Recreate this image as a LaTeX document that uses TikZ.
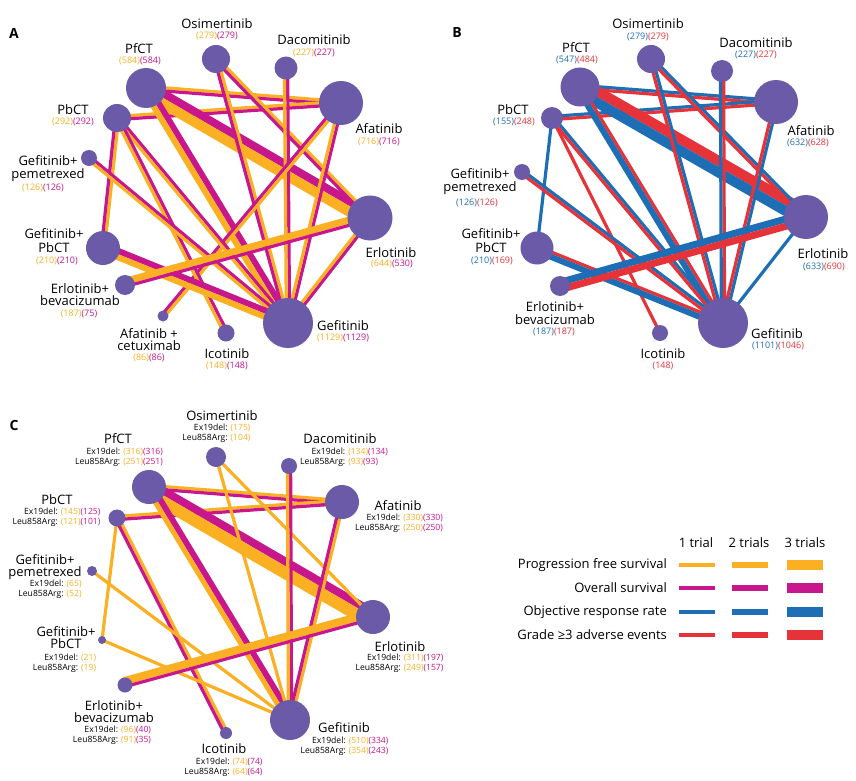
\documentclass[tikz,border=0pt]{standalone}
\usepackage{fontspec}
\setmainfont{Open Sans}
\usetikzlibrary{calc}
\pgfdeclarelayer{bg}
\pgfsetlayers{bg,main}
\definecolor{pfs}{HTML}{FBB023}
\definecolor{os}{HTML}{C8168C}
\definecolor{orr}{HTML}{1E6EB5}
\definecolor{ae}{HTML}{E63339}
\definecolor{nodec}{HTML}{6B5AA7}
\newcommand\dpair[6]{%
  \pgfmathsetmacro\oa{#4/2}\pgfmathsetmacro\ob{#6/2}%
  \draw[#3, line width=#4pt] ($(#1.center)!\oa pt!90:(#2.center)$) -- ($(#2.center)!\oa pt!-90:(#1.center)$);
  \draw[#5, line width=#6pt] ($(#1.center)!\ob pt!-90:(#2.center)$) -- ($(#2.center)!\ob pt!90:(#1.center)$);
}
\newcommand\sline[4]{\draw[#3, line width=#4pt] (#1.center) -- (#2.center);}
\newcommand\blk[4]{\begin{tabular}{@{}r@{\hspace{3pt}}l@{}}Ex19del: & #1\\ Leu858Arg: & #2\end{tabular}}
\newcommand\po[2]{{\color{pfs}(#1)}{\color{os}(#2)}}
\newcommand\br[2]{{\color{orr}(#1)}{\color{ae}(#2)}}
\tikzset{
 nd/.style={circle, fill=nodec, inner sep=0pt, minimum size=#1},
 lbl/.style={font=\fontsize{13}{12.5}\selectfont, align=center, inner sep=0pt},
 num/.style={font=\fontsize{9}{10}\selectfont, inner sep=0pt},
 sub/.style={font=\fontsize{8.6}{10}\selectfont, inner sep=0pt},
 panel/.style={font=\fontsize{14}{14}\selectfont\bfseries, inner sep=0pt},
}
\def\w{3.2}
\begin{document}
\begin{tikzpicture}[x=1pt,y=-1pt]
\useasboundingbox (0,0) rectangle (856,781);
\begin{pgfonlayer}{bg}
\fill[white] (0,0) rectangle (856,781);
\end{pgfonlayer}
% ================= Panel A =================
\node[panel] (pA) at (14,33) {A};
\node[nd=40pt] (aPfCT) at (146,88) {};
\node[nd=28pt] (aOsi) at (216,59) {};
\node[nd=23pt] (aDac) at (286,68) {};
\node[nd=44pt] (aAfa) at (341,103) {};
\node[nd=28pt] (aPbCT) at (117,118) {};
\node[nd=16pt] (aGpem) at (89,158) {};
\node[nd=45pt] (aErl) at (370,218) {};
\node[nd=34pt] (aGPbCT) at (103,248) {};
\node[nd=20pt] (aEbev) at (125,285) {};
\node[nd=11pt] (aAcet) at (163,316) {};
\node[nd=17pt] (aIco) at (226,333) {};
\node[nd=50pt] (aGef) at (288,323) {};
\node[lbl] (aOsiL) at (217,24) {Osimertinib};
\node[num] (aOsiN) at (217,36) {\po{279}{279}};
\node[lbl] (aDacL) at (314,40) {Dacomitinib};
\node[num] (aDacN) at (314,53) {\po{227}{227}};
\node[lbl] (aPfCTL) at (139,49) {PfCT};
\node[num] (aPfCTN) at (140,61) {\po{584}{584}};
\node[lbl] (aPbCTL) at (73,110) {PbCT};
\node[num] (aPbCTN) at (73,122) {\po{292}{292}};
\node[lbl] (aAfaL) at (379,129) {Afatinib};
\node[num] (aAfaN) at (379,142) {\po{716}{716}};
\node[lbl] (aGpemL) at (48,168.5) {Gefitinib+\\pemetrexed};
\node[num] (aGpemN) at (43,188) {\po{126}{126}};
\node[lbl] (aGPbCTL) at (54,240.5) {Gefitinib+\\[2pt]PbCT};
\node[num] (aGPbCTN) at (57,261) {\po{210}{210}};
\node[lbl] (aErlL) at (391,253) {Erlotinib};
\node[num] (aErlN) at (392,264) {\po{644}{530}};
\node[lbl] (aEbevL) at (80,294.5) {Erlotinib+\\bevacizumab};
\node[num] (aEbevN) at (79,314) {\po{187}{75}};
\node[lbl] (aAcetL) at (149,339.5) {Afatinib +\\cetuximab};
\node[num] (aAcetN) at (149,358) {\po{86}{86}};
\node[lbl] (aIcoL) at (227,354) {Icotinib};
\node[num] (aIcoN) at (227,366) {\po{148}{148}};
\node[lbl] (aGefL) at (343,326) {Gefitinib};
\node[num] (aGefN) at (343,338) {\po{1129}{1129}};
\begin{pgfonlayer}{bg}
\dpair{aPfCT}{aAfa}{pfs}{\w}{os}{\w}
\dpair{aPbCT}{aAfa}{pfs}{\w}{os}{\w}
\dpair{aPfCT}{aErl}{os}{8}{pfs}{10}
\dpair{aPfCT}{aGef}{os}{6}{pfs}{6}
\dpair{aOsi}{aErl}{pfs}{\w}{os}{\w}
\dpair{aOsi}{aGef}{pfs}{\w}{os}{\w}
\dpair{aDac}{aGef}{os}{\w}{pfs}{\w}
\dpair{aAfa}{aGef}{os}{\w}{pfs}{\w}
\dpair{aAcet}{aAfa}{os}{\w}{pfs}{\w}
\dpair{aPbCT}{aGPbCT}{pfs}{\w}{os}{\w}
\dpair{aPbCT}{aGef}{os}{\w}{pfs}{\w}
\dpair{aPbCT}{aIco}{os}{\w}{pfs}{\w}
\dpair{aGpem}{aGef}{os}{\w}{pfs}{\w}
\dpair{aGPbCT}{aGef}{os}{6}{pfs}{6}
\dpair{aEbev}{aErl}{pfs}{7}{os}{\w}
\dpair{aErl}{aGef}{os}{\w}{pfs}{\w}
\end{pgfonlayer}
% ================= Panel B =================
\node[panel] (pB) at (457,33) {B};
\node[nd=39pt] (bPfCT) at (580,87) {};
\node[nd=28pt] (bOsi) at (651,59) {};
\node[nd=22pt] (bDac) at (722,71) {};
\node[nd=44pt] (bAfa) at (776,102) {};
\node[nd=22pt] (bPbCT) at (552,118) {};
\node[nd=16pt] (bGpem) at (522,172) {};
\node[nd=44pt] (bErl) at (806,217) {};
\node[nd=33pt] (bGPbCT) at (537,248) {};
\node[nd=20pt] (bEbev) at (560,286) {};
\node[nd=16pt] (bIco) at (660,333) {};
\node[nd=50pt] (bGef) at (723,323) {};
\node[lbl] (bOsiL) at (648,24) {Osimertinib};
\node[num] (bOsiN) at (648,37) {\br{279}{279}};
\node[lbl] (bDacL) at (756,43) {Dacomitinib};
\node[num] (bDacN) at (756,55) {\br{227}{227}};
\node[lbl] (bPfCTL) at (576,48) {PfCT};
\node[num] (bPfCTN) at (577,60) {\br{547}{484}};
\node[lbl] (bPbCTL) at (513,110) {PbCT};
\node[num] (bPbCTN) at (514,122) {\br{155}{248}};
\node[lbl] (bAfaL) at (811,131) {Afatinib};
\node[num] (bAfaN) at (808,143) {\br{632}{628}};
\node[lbl] (bGpemL) at (480,181.5) {Gefitinib+\\pemetrexed};
\node[num] (bGpemN) at (477,203) {\br{126}{126}};
\node[lbl] (bGPbCTL) at (491,240.5) {Gefitinib+\\[2pt]PbCT};
\node[num] (bGPbCTN) at (492,261) {\br{210}{169}};
\node[lbl] (bErlL) at (823,254) {Erlotinib};
\node[num] (bErlN) at (824,267) {\br{633}{690}};
\node[lbl] (bEbevL) at (555,313) {Erlotinib+\\bevacizumab};
\node[num] (bEbevN) at (554,332) {\br{187}{187}};
\node[lbl] (bIcoL) at (663,354) {Icotinib};
\node[num] (bIcoN) at (663,366) {{\color{ae}(148)}};
\node[lbl] (bGefL) at (777,334) {Gefitinib};
\node[num] (bGefN) at (778,346) {\br{1101}{1046}};
\begin{pgfonlayer}{bg}
\dpair{bPfCT}{bAfa}{orr}{\w}{ae}{\w}
\dpair{bPbCT}{bAfa}{orr}{\w}{ae}{\w}
\dpair{bPfCT}{bErl}{ae}{10}{orr}{10}
\dpair{bPfCT}{bGef}{ae}{\w}{orr}{6}
\dpair{bOsi}{bErl}{orr}{\w}{ae}{\w}
\dpair{bOsi}{bGef}{orr}{\w}{ae}{\w}
\dpair{bDac}{bGef}{ae}{\w}{orr}{\w}
\dpair{bAfa}{bGef}{orr}{\w}{ae}{\w}
\sline{bPbCT}{bGPbCT}{orr}{\w}
\dpair{bPbCT}{bGef}{orr}{\w}{ae}{\w}
\sline{bPbCT}{bIco}{ae}{\w}
\dpair{bGpem}{bGef}{orr}{\w}{ae}{\w}
\dpair{bGPbCT}{bGef}{ae}{\w}{orr}{6}
\dpair{bEbev}{bErl}{orr}{7}{ae}{7}
\sline{bErl}{bGef}{orr}{\w}
\end{pgfonlayer}
% ================= Panel C =================
\node[panel] (pC) at (14,425) {C};
\node[nd=34pt] (cPfCT) at (149,487) {};
\node[nd=20pt] (cOsi) at (216,457) {};
\node[nd=16pt] (cDac) at (289,466) {};
\node[nd=34pt] (cAfa) at (342,502) {};
\node[nd=17pt] (cPbCT) at (117,518) {};
\node[nd=10pt] (cGpem) at (92,571) {};
\node[nd=34pt] (cErl) at (373,617) {};
\node[nd=8pt] (cGPbCT) at (102,640) {};
\node[nd=15pt] (cEbev) at (125,685) {};
\node[nd=12pt] (cIco) at (226,733) {};
\node[nd=40pt] (cGef) at (290,720) {};
\node[lbl] (cOsiL) at (222,416) {Osimertinib};
\node[sub] (cOsiN) at (216.5,433) {\blk{{\color{pfs}(175)}}{{\color{pfs}(104)}}{}{}};
\node[lbl] (cPfCTL) at (118,439) {PfCT};
\node[sub] (cPfCTN) at (119,457) {\blk{\po{316}{316}}{\po{251}{251}}{}{}};
\node[lbl] (cDacL) at (340,439) {Dacomitinib};
\node[sub] (cDacN) at (344,457) {\blk{\po{134}{134}}{\po{93}{93}}{}{}};
\node[lbl] (cPbCTL) at (57,500) {PbCT};
\node[sub] (cPbCTN) at (56.5,517) {\blk{\po{145}{125}}{\po{121}{101}}{}{}};
\node[lbl] (cGpemL) at (45,567) {Gefitinib+\\pemetrexed};
\node[sub] (cGpemN) at (50,589) {\blk{{\color{pfs}(65)}}{{\color{pfs}(52)}}{}{}};
\node[lbl] (cAfaL) at (398,506) {Afatinib};
\node[sub] (cAfaN) at (399,523) {\blk{\po{330}{330}}{\po{250}{250}}{}{}};
\node[lbl] (cErlL) at (400,647) {Erlotinib};
\node[sub] (cErlN) at (399.5,663) {\blk{\po{311}{197}}{\po{249}{157}}{}{}};
\node[lbl] (cGPbCTL) at (66,637.5) {Gefitinib+\\PbCT};
\node[sub] (cGPbCTN) at (64.5,663) {\blk{{\color{pfs}(21)}}{{\color{pfs}(19)}}{}{}};
\node[lbl] (cEbevL) at (114,711.5) {Erlotinib+\\bevacizumab};
\node[sub] (cEbevN) at (112,735.5) {\blk{\po{96}{40}}{\po{91}{35}}{}{}};
\node[lbl] (cIcoL) at (224,749) {Icotinib};
\node[sub] (cIcoN) at (223.5,767) {\blk{\po{74}{74}}{\po{64}{64}}{}{}};
\node[lbl] (cGefL) at (344,728) {Gefitinib};
\node[sub] (cGefN) at (344.5,746) {\blk{\po{510}{334}}{\po{354}{243}}{}{}};
\begin{pgfonlayer}{bg}
\dpair{cPfCT}{cAfa}{pfs}{\w}{os}{\w}
\dpair{cPbCT}{cAfa}{pfs}{\w}{os}{\w}
\dpair{cPfCT}{cErl}{os}{8}{pfs}{12}
\dpair{cPfCT}{cGef}{os}{6}{pfs}{5}
\sline{cOsi}{cErl}{pfs}{\w}
\sline{cOsi}{cGef}{pfs}{\w}
\dpair{cDac}{cGef}{os}{\w}{pfs}{\w}
\dpair{cAfa}{cGef}{pfs}{\w}{os}{\w}
\sline{cPbCT}{cGPbCT}{pfs}{\w}
\dpair{cPbCT}{cIco}{pfs}{\w}{os}{\w}
\sline{cGpem}{cGef}{pfs}{\w}
\sline{cGPbCT}{cGef}{pfs}{\w}
\dpair{cEbev}{cErl}{pfs}{8}{os}{\w}
\end{pgfonlayer}
% ================= Legend =================
\node[lbl] (h1) at (696,543) {1 trial};
\node[lbl] (h2) at (749,543) {2 trials};
\node[lbl] (h3) at (805,543) {3 trials};
\node[lbl, anchor=east] (l1) at (667,565) {Progression free survival};
\node[lbl, anchor=east] (l2) at (667,588) {Overall survival};
\node[lbl, anchor=east] (l3) at (667,612) {Objective response rate};
\node[lbl, anchor=east] (l4) at (667,635) {Grade ≥3 adverse events};
\foreach \c/\y in {pfs/565, os/588, orr/612, ae/635}{
  \draw[\c, line width=4pt] (679,\y) -- (715,\y);
  \draw[\c, line width=6.5pt] (732,\y) -- (768,\y);
  \draw[\c, line width=10pt] (787,\y) -- (823,\y);
}
\end{tikzpicture}
\end{document}
